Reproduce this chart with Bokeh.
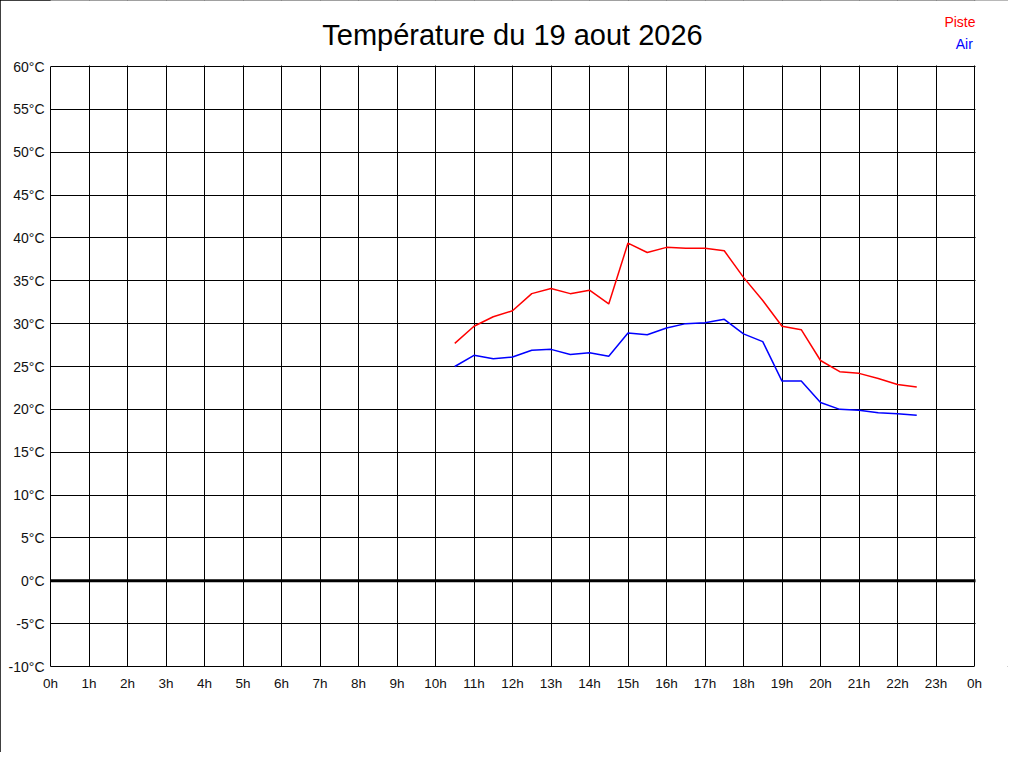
from bokeh.plotting import figure
from bokeh.models import Range1d, FixedTicker, Span, Label, BoxAnnotation
from bokeh.embed import file_html
from bokeh.resources import INLINE

# Data
hours = [10.5, 11, 11.5, 12, 12.5, 13, 13.5, 14, 14.5, 15, 15.5, 16, 16.5, 17,
         17.5, 18, 18.5, 19, 19.5, 20, 20.5, 21, 21.5, 22, 22.5]
piste = [27.7, 29.7, 30.8, 31.5, 33.5, 34.1, 33.5, 33.9, 32.3, 39.4, 38.3, 38.9,
         38.8, 38.8, 38.5, 35.4, 32.7, 29.7, 29.3, 25.7, 24.4, 24.2, 23.6, 22.9, 22.6]
air = [25.0, 26.3, 25.9, 26.1, 26.9, 27.0, 26.4, 26.6, 26.2, 28.9, 28.7, 29.5,
       30.0, 30.1, 30.5, 28.8, 27.9, 23.3, 23.3, 20.8, 20.0, 19.9, 19.6, 19.5, 19.3]
x_ticks = list(range(0, 25))
x_labels = {h: f"{h % 24}h" for h in x_ticks}
y_ticks = list(range(-10, 61, 5))
y_labels = {t: f"{t}°C" for t in y_ticks}
title_text = "Température du 19 aout 2026"
series_names = ["Piste", "Air"]
series_colors = ["#ff0000", "#0000ff"]

FONT = "Liberation Sans"

# Layout geometry (pixels)
W, H = 1008, 752
LEFT, TOP_PLOT, PLOT_W, PLOT_H = 50, 66, 924, 600
BOTTOM = H - TOP_PLOT - PLOT_H
x0, x1 = x_ticks[0], x_ticks[-1]
y0, y1 = y_ticks[0], y_ticks[-1]
px_x = PLOT_W / (x1 - x0)
px_y = PLOT_H / (y1 - y0)
x_end = x0 + (W - LEFT) / px_x
y_end = y1 + TOP_PLOT / px_y

p = figure(width=W, height=H, output_backend="svg", toolbar_location=None,
           title_location=None,
           x_range=Range1d(x0, x_end), y_range=Range1d(y0, y_end),
           min_border_left=LEFT, min_border_right=0, min_border_top=0,
           min_border_bottom=BOTTOM)
p.background_fill_color = "white"
p.border_fill_color = "white"
p.outline_line_color = None
p.styles = {"outline": "1px solid black", "outline-offset": "-1px"}

for ax, ticks, labels, bounds in ((p.xaxis, x_ticks, x_labels, (x0, x1)),
                                  (p.yaxis, y_ticks, y_labels, (y0, y1))):
    ax.ticker = FixedTicker(ticks=ticks)
    ax.major_label_overrides = labels
    ax.bounds = bounds
    ax.axis_line_color = "black"
    ax.axis_line_width = 1
    ax.major_tick_line_color = None
    ax.minor_tick_line_color = None
    ax.major_label_text_font = FONT
    ax.major_label_text_color = "#111111"
p.xaxis.major_label_text_font_size = "13.5px"
p.yaxis.major_label_text_font_size = "14px"
p.xaxis.major_label_standoff = 3
p.yaxis.major_label_standoff = 0

p.xgrid.ticker = FixedTicker(ticks=x_ticks)
p.ygrid.ticker = FixedTicker(ticks=y_ticks)
for g in (p.xgrid, p.ygrid):
    g.grid_line_color = "black"
    g.grid_line_alpha = 1
    g.grid_line_width = 1

p.add_layout(Span(location=0, dimension="width", line_color="black", line_width=3))

p.line(hours, piste, line_color=series_colors[0], line_width=1.5)
p.line(hours, air, line_color=series_colors[1], line_width=1.5)

# white margins above and right of the plot area (grid lines stop at the plot border)
p.add_layout(BoxAnnotation(bottom=y1 + 1 / px_y, fill_color="white", fill_alpha=1,
                           line_color=None))
p.add_layout(BoxAnnotation(left=x1 + 1 / px_x, fill_color="white", fill_alpha=1,
                           line_color=None))

p.add_layout(Label(x=(x0 + x1) / 2, y=y1 + 32 / px_y, text=title_text, text_align="center",
                   text_baseline="alphabetic", text_font=FONT, text_font_size="29px",
                   text_color="black"))
p.add_layout(Label(x=x1 + 1 / px_x, y=y1 + 44.5 / px_y, text=series_names[0],
                   text_align="right", text_baseline="alphabetic", text_font=FONT,
                   text_font_size="14px", text_color=series_colors[0]))
p.add_layout(Label(x=x1 - 1.7 / px_x, y=y1 + 23 / px_y, text=series_names[1],
                   text_align="right", text_baseline="alphabetic", text_font=FONT,
                   text_font_size="14px", text_color=series_colors[1]))

open("out.html", "w").write(file_html(p, INLINE))
